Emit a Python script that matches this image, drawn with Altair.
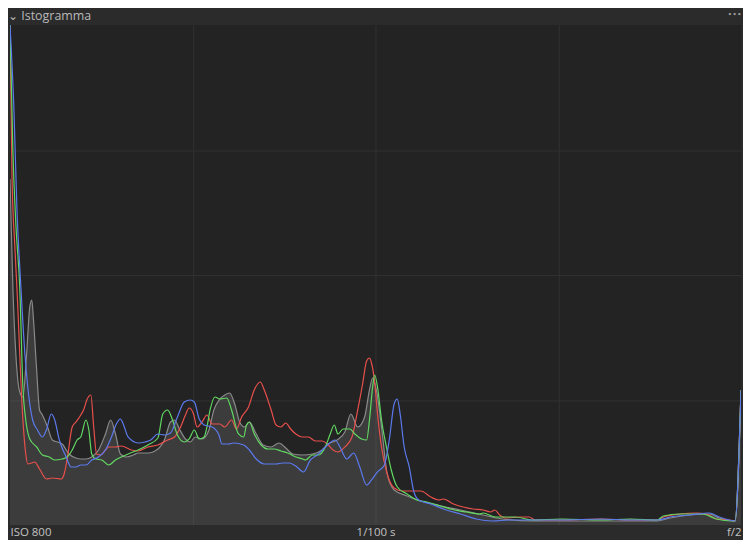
import altair as alt
import pandas as pd

# ---- data (level 0-255, height in % of plot) ----
red_level = [0, 0.7, 1.7, 2.4, 4.5, 5.5, 6.2, 7.6, 8.6, 10.3, 12.7, 14.8, 17.9, 18.9, 19.9, 21.7, 23.0, 24.7, 25.8, 26.8, 28.2, 29.2, 30.2, 31.6, 33.3, 34.4, 36.8, 38.8, 42.3, 44.7, 48.1, 51.6, 55.0, 57.4, 59.5, 61.2, 62.5, 63.9, 65.3, 67.0, 68.7, 70.5, 73.2, 74.9, 77.3, 79.0, 80.8, 83.2, 85.2, 87.3, 88.7, 91.1, 92.8, 94.5, 96.2, 97.9, 99.7, 102.1, 104.1, 106.5, 108.9, 110.7, 112.7, 114.4, 116.8, 119.3, 121.3, 123.0, 124.4, 125.4, 126.1, 127.2, 128.2, 129.6, 131.3, 134.0, 136.8, 139.9, 143.3, 146.8, 149.5, 151.2, 154.7, 158.1, 161.5, 165.0, 167.7, 169.1, 170.8, 172.9, 177.7, 181.1, 183.2, 192.5, 206.2, 216.5, 225.8, 227.9, 233.7, 239.5, 243.0, 246.4, 250.9, 252.9, 255]
red_value = [100, 69.6, 55.6, 47.6, 21, 14.2, 12.2, 12.4, 12.6, 11.2, 9.2, 9.4, 9.2, 10.2, 13, 19.6, 20.6, 22, 23.2, 25, 26, 19.6, 14.2, 14, 15, 15.6, 15.6, 15.8, 15, 14.8, 15.6, 16, 17, 17.6, 19.6, 22, 23.4, 22.4, 19.6, 20.6, 22, 20.2, 20.2, 19.6, 21, 19.2, 21.6, 23.6, 27, 28.6, 27, 23, 20, 19.6, 20.4, 19.2, 18.2, 17.6, 17.6, 16.8, 16.8, 16.2, 15, 14.6, 15.6, 17.6, 23, 28.2, 32.8, 33.4, 32.4, 28.6, 22.2, 15.6, 10.8, 7.4, 6.8, 6.8, 6.8, 5.6, 5, 5.2, 4.2, 3.6, 3.2, 3, 2.6, 3, 2, 1.4, 1.6, 1.6, 1, 1, 1.2, 1, 1, 1.6, 2.2, 2.4, 2.2, 1.2, 1, 0.8, 27]

green_level = [0, 1.0, 2.1, 3.4, 4.5, 5.5, 6.9, 9.3, 11.3, 13.7, 15.5, 18.2, 19.9, 21.7, 23.4, 24.7, 26.5, 27.5, 28.5, 29.9, 32.0, 34.4, 36.8, 38.8, 41.2, 44.7, 48.1, 51.6, 53.3, 55.0, 56.7, 58.4, 60.8, 62.5, 64.3, 66.0, 67.7, 68.7, 69.8, 71.5, 73.2, 75.6, 77.3, 79.7, 81.5, 82.5, 83.5, 85.2, 87.6, 90.0, 92.1, 94.5, 96.9, 99.7, 102.1, 103.1, 105.5, 107.6, 110.0, 111.7, 113.1, 114.4, 116.2, 118.6, 120.3, 122.7, 124.4, 125.4, 126.5, 127.2, 128.2, 129.6, 131.3, 133.0, 135.1, 138.5, 141.9, 145.4, 150.2, 153.6, 159.1, 163.9, 165.0, 169.4, 176.3, 182.1, 192.5, 206.2, 216.5, 225.8, 227.9, 233.7, 241.6, 246.4, 251.9, 252.9, 255]
green_value = [100, 75, 59.6, 47.6, 27.6, 21, 17.2, 15.6, 14, 13.6, 13, 13.2, 13.6, 15, 17, 17.6, 21, 19, 14.2, 13.2, 13, 12, 13, 13.6, 14.2, 15, 16, 17.4, 22.2, 23, 21, 18, 16.6, 17.2, 19, 17.2, 17.6, 19.6, 23, 25.6, 25.2, 25.4, 23, 18.2, 17.6, 20, 20.6, 18.2, 16, 15.2, 15.2, 14.8, 14.4, 13.6, 13.2, 13, 14, 14, 15.6, 18.2, 20, 18.2, 19.2, 19.2, 18.2, 17.2, 17, 21, 27.6, 30, 27.6, 21, 15.6, 11, 7.6, 6.2, 5, 4.6, 3.8, 3.2, 2.6, 2.2, 2.4, 1.6, 1.6, 1, 1.2, 1, 1.2, 1, 1.8, 2.2, 2.2, 1.2, 0.8, 0.8, 27]

blue_level = [0, 1.4, 2.4, 3.8, 5.2, 6.2, 7.9, 9.6, 11.3, 12.7, 14.4, 15.5, 17.2, 19.6, 21.3, 23.0, 24.7, 26.5, 28.5, 30.9, 33.3, 35.4, 37.1, 38.5, 39.5, 41.2, 44.7, 47.1, 49.1, 51.6, 54.0, 56.0, 58.4, 60.8, 62.9, 64.3, 66.0, 67.7, 70.5, 72.9, 73.9, 76.3, 78.0, 81.5, 83.5, 85.9, 88.7, 92.8, 95.2, 97.3, 99.7, 102.4, 104.8, 107.2, 110.0, 113.4, 115.1, 117.5, 119.9, 122.0, 124.4, 126.1, 128.2, 130.6, 132.3, 134.0, 135.1, 136.1, 137.5, 139.2, 140.9, 142.6, 146.8, 151.2, 157.1, 162.6, 168.4, 174.2, 192.5, 206.2, 216.5, 225.8, 230.3, 237.1, 244.0, 247.4, 250.9, 252.9, 255]
blue_value = [100, 82.6, 63.6, 47.6, 34.2, 27.6, 21, 19, 17.6, 19, 22.2, 21.2, 17, 13.6, 11.6, 11.6, 12, 12, 13, 13.6, 15, 17.6, 20.2, 21.2, 20.2, 17.6, 16.4, 16.6, 17, 18.2, 18, 18.4, 21.6, 24.6, 25, 24.6, 21.2, 20, 19.6, 18, 16.2, 16.2, 16.4, 16, 15, 13.2, 12.2, 12.2, 12.4, 12.4, 11.8, 10.6, 13, 14, 15.6, 17, 15.6, 13.2, 14.4, 11.6, 8, 9, 10.6, 12, 17, 24.2, 25.2, 22.2, 15.6, 11.8, 6.6, 5, 4.2, 3.2, 2.2, 1.2, 0.8, 1, 1, 1.2, 1, 1, 1.6, 2, 2.4, 1.6, 1, 0.8, 27]

luma_level = [0, 1.0, 2.1, 3.4, 4.5, 5.8, 6.9, 7.6, 8.2, 9.3, 10.3, 11.3, 13.1, 14.8, 16.5, 18.2, 20.6, 23.0, 24.7, 26.5, 28.5, 30.9, 33.3, 35.1, 36.8, 38.5, 40.6, 43.0, 44.7, 48.1, 51.6, 54.0, 56.0, 57.4, 59.1, 61.2, 62.9, 64.6, 67.0, 69.4, 71.1, 73.2, 74.9, 76.6, 78.4, 80.1, 81.8, 83.5, 85.9, 88.3, 91.1, 93.8, 96.2, 98.6, 102.1, 105.5, 108.9, 111.0, 114.1, 116.8, 118.9, 121.3, 123.7, 125.4, 126.5, 127.8, 129.6, 131.6, 134.0, 138.5, 143.3, 148.8, 157.1, 165.0, 171.8, 182.1, 206.2, 225.8, 230.3, 237.1, 244.0, 247.4, 252.9, 255]
luma_value = [69.2, 47.6, 33.6, 26.6, 25.6, 34.2, 43.6, 45, 41, 31, 23, 22, 19.6, 17, 16.6, 16.2, 14.2, 13.4, 13.2, 13.2, 13.6, 15, 18.2, 21, 18.2, 14.2, 13.6, 14, 14.4, 14.4, 15.2, 17.2, 20.6, 21, 19.2, 17.2, 16.6, 17.6, 17.2, 19, 23, 25.2, 26, 26.4, 24.2, 20.6, 19.6, 20.6, 18.2, 16, 15.6, 16.4, 15.4, 14.2, 14, 14.2, 15, 16.2, 17, 18.6, 22.2, 19.6, 21.6, 27, 29.4, 27, 19.6, 10.2, 7, 5.8, 4.8, 4, 3, 2, 1.2, 0.8, 0.8, 0.8, 1.4, 2, 2.2, 1.4, 0.8, 27]

tick_levels = [0, 127.5, 255]
tick_labels = ["ISO 800", "1/100 s", "f/2"]
grid_levels = [0, 63.75, 127.5, 191.25, 255]
grid_values = [25, 50, 75]

title_text = "⌄  Istogramma"
menu_text = "•••"

BG = "#2b2b2b"
PLOT_BG = "#232323"
GRID = "#313131"

luma = pd.DataFrame({"level": luma_level, "value": luma_value})
red = pd.DataFrame({"level": red_level, "value": red_value})
green = pd.DataFrame({"level": green_level, "value": green_value})
blue = pd.DataFrame({"level": blue_level, "value": blue_value})

label_expr = " : ".join(
    f"datum.value == {v} ? '{t}'" for v, t in zip(tick_levels, tick_labels)
) + " : ''"

x_enc = alt.X(
    "level:Q",
    scale=alt.Scale(domain=[0, 255], nice=False, zero=False),
    axis=alt.Axis(
        values=grid_levels,
        labelExpr=label_expr,
        labelAlign={
            "condition": [
                {"test": f"datum.value <= {tick_levels[0]}", "value": "left"},
                {"test": f"datum.value >= {tick_levels[-1]}", "value": "right"},
            ],
            "value": "center",
        },
        grid=True,
        gridColor={
            "condition": {"test": "datum.value <= 0 || datum.value >= 255", "value": "transparent"},
            "value": GRID,
        },
        ticks=False,
        domain=False,
        labelColor="#c2c2c2",
        labelFont="Open Sans",
        labelFontSize=11.5,
        labelPadding=2,
        labelBaseline="top",
        title=None,
        labelOverlap=False,
        labelBound=False,
        labelFlush=False,
    ),
)
y_enc = alt.Y(
    "value:Q",
    scale=alt.Scale(domain=[0, 100], nice=False),
    axis=alt.Axis(
        orient="right",
        values=grid_values,
        grid=True,
        gridColor=GRID,
        labels=False,
        ticks=False,
        domain=False,
        title=menu_text,
        titleAngle=0,
        titleX=-7,
        titleY=-11,
        titleAlign="center",
        titleBaseline="middle",
        titleColor="#9c9c9c",
        titleFontSize=8,
        titleFontWeight="normal",
        titleFont="DejaVu Sans",
    ),
)

area = alt.Chart(luma).mark_area(color="white", opacity=0.115, clip=True, interpolate="monotone").encode(x=x_enc, y=y_enc)
line_kw = dict(strokeWidth=1.2, clip=True, interpolate="monotone")
luma_line = alt.Chart(luma).mark_line(color="#8a8a8a", **line_kw).encode(x="level:Q", y="value:Q")
red_line = alt.Chart(red).mark_line(color="#e8504c", **line_kw).encode(x="level:Q", y="value:Q")
green_line = alt.Chart(green).mark_line(color="#62d862", **line_kw).encode(x="level:Q", y="value:Q")
blue_line = alt.Chart(blue).mark_line(color="#5b7aee", **line_kw).encode(x="level:Q", y="value:Q")

chart = (
    alt.layer(area, luma_line, red_line, green_line, blue_line)
    .properties(
        width=734,
        height=502,
        background=BG,
        padding={"left": 0, "right": 1, "top": 0, "bottom": 0},
        title=alt.TitleParams(
            text=title_text,
            anchor="start",
            frame="group",
            fontSize=12.5,
            font="Open Sans",
            fontWeight="normal",
            color="#b8b8b8",
            offset=0,
            dy=12,
            dx=-2,
        ),
    )
    .configure_view(fill=PLOT_BG, stroke=None)
)

chart.save("out.html", embed_options={"renderer": "svg", "actions": False})
